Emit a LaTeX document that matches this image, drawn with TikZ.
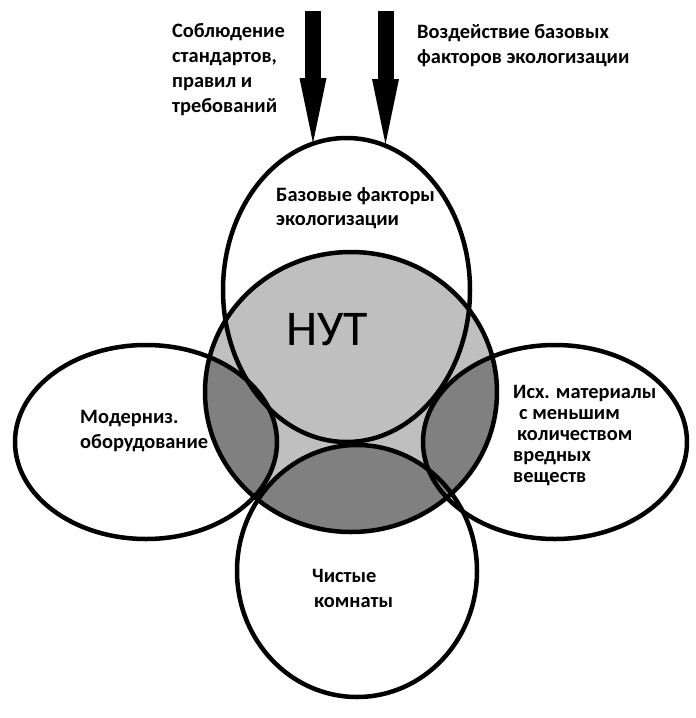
\documentclass[tikz,border=0pt]{standalone}
\usepackage{fontspec}
\setmainfont{Carlito}
\usetikzlibrary{arrows.meta}
\begin{document}
\begin{tikzpicture}[x=1pt,y=-1pt]
	\tikzset{>={Triangle[length=65pt,width=27pt,line width=0pt]}}
	\tikzset{krug/.style={line width=4.5pt},
		txt/.style={anchor=base west,inner sep=0pt,align=left,font=\bfseries\fontsize{20.4}{25}\selectfont}}
	\useasboundingbox (0,0) rectangle (696,718);
	
	\coordinate (NUT) at (351,392);
	\coordinate (V) at (346.5,290);
	\coordinate (L) at (146,442);
	\coordinate (R) at (555,442);
	\coordinate (N) at (357,571);
	
	% zalivka
	\fill[gray!50] (NUT) ellipse [x radius=146, y radius=140];
	\begin{scope}
		\clip (NUT) ellipse [x radius=146, y radius=140];
		\fill[gray] (L) ellipse [x radius=131, y radius=97]
		(R) ellipse [x radius=132, y radius=97]
		(N) ellipse [x radius=120, y radius=126];
	\end{scope}
	
	\draw[krug] (NUT) ellipse [x radius=146, y radius=140];
	\draw[krug] (V) ellipse [x radius=123.5, y radius=152];
	\draw[krug] (L) ellipse [x radius=131, y radius=97];
	\draw[krug] (R) ellipse [x radius=132, y radius=97];
	\draw[krug] (N) ellipse [x radius=120, y radius=126];
	
	% strelki
	\coordinate (s1) at (313,11);
	\coordinate (t1) at (313,143);
	\coordinate (s2) at (385.5,11);
	\coordinate (t2) at (385.5,144);
	\draw[->,line width=16pt] (s1) -- (t1);
	\draw[->,line width=16pt] (s2) -- (t2);
	
	\node[font=\fontsize{50}{50}\selectfont,anchor=base west,inner sep=0pt] (nut) at (286,345) {НУТ};
	
	% base = poslednyaya stroka
	\node[txt] (sobl) at (172,112) {Соблюдение\\стандартов,\\правил и\\требований};
	\node[txt] (vozd) at (417,63) {Воздействие базовых\\факторов экологизации};
	\node[txt,font=\bfseries\fontsize{20.4}{23.5}\selectfont] (baz) at (276,225) {Базовые факторы\\экологизации};
	\node[txt] (mod) at (80,448) {Модерниз.\\оборудование};
	\node[txt,font=\bfseries\fontsize{20.4}{21}\selectfont] (isx) at (513,482) {Исх. материалы\\\hspace*{6pt}с меньшим\\\hspace*{4pt}количеством\\вредных\\веществ};
	\node[txt] (chist) at (312,607) {Чистые\\\hspace*{2pt}комнаты};
	
\end{tikzpicture}
\end{document}
